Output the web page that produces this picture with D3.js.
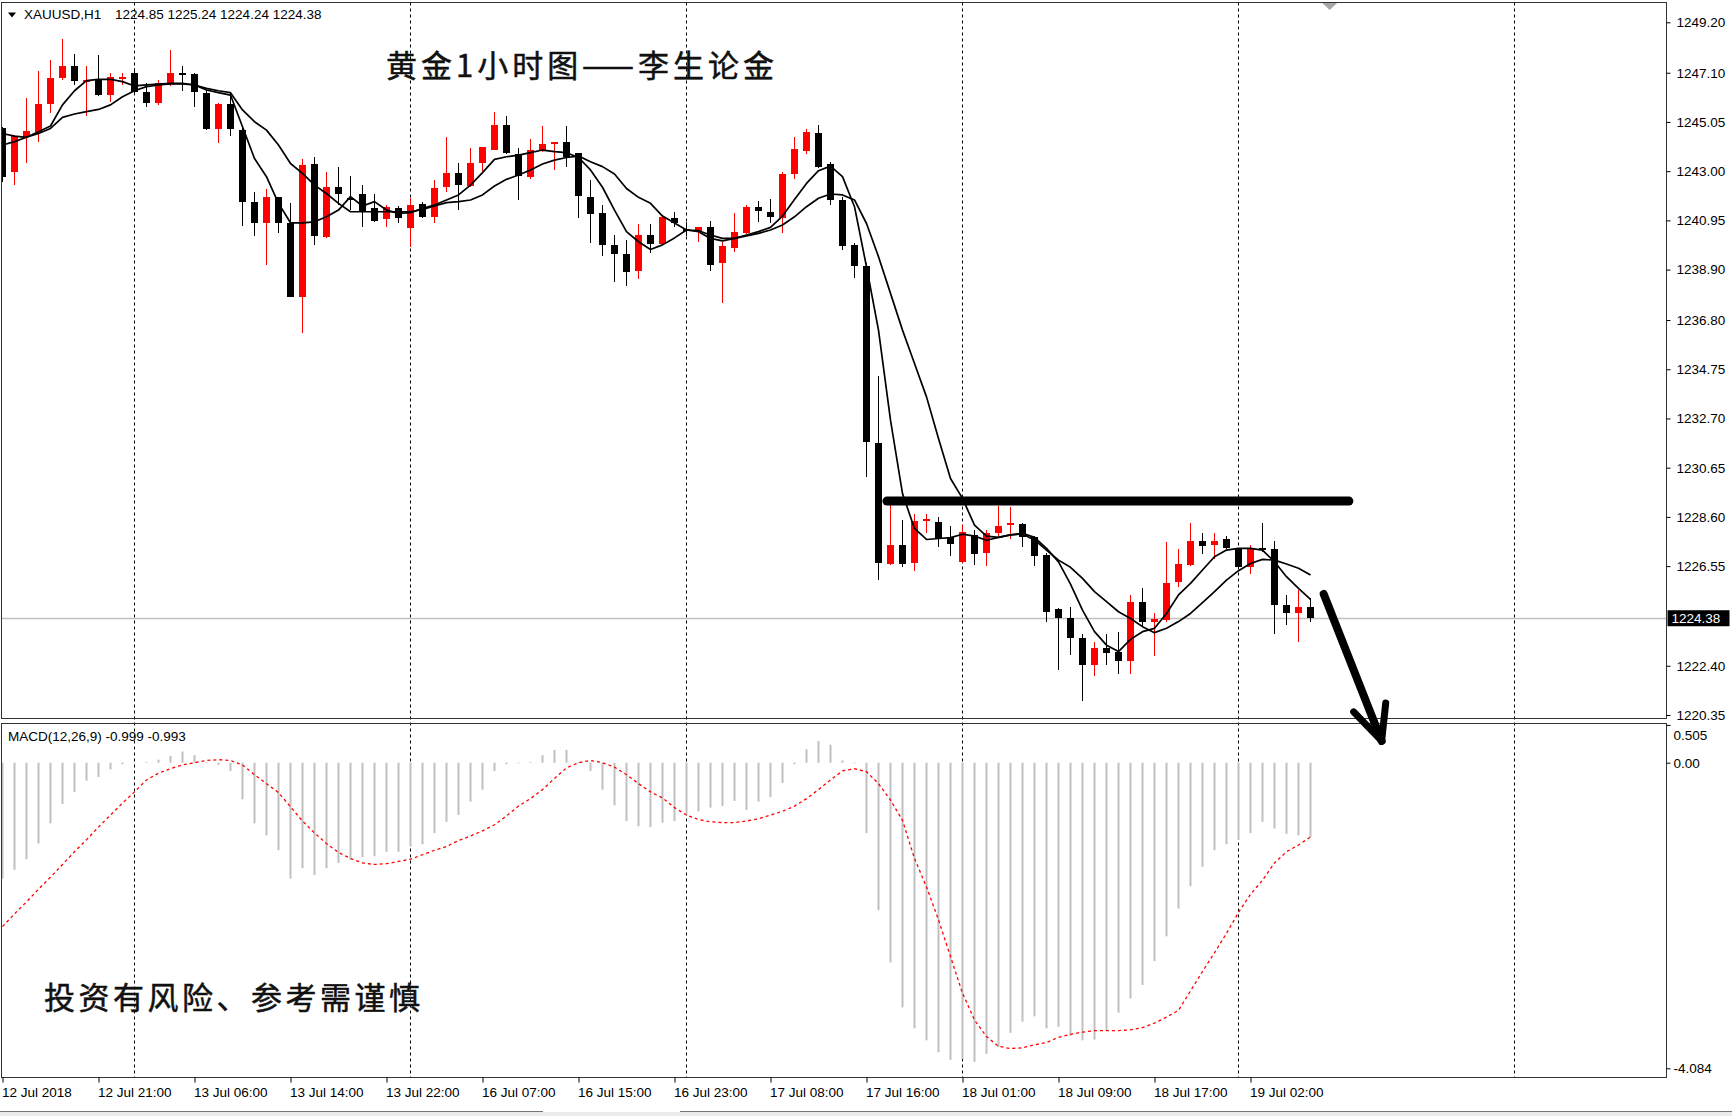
<!DOCTYPE html>
<html><head><meta charset="utf-8">
<script src="https://cdn.jsdelivr.net/npm/d3@7"></script>
<style>
html,body{margin:0;padding:0;background:#fff;}
svg{display:block;}
</style></head><body>
<svg id="c" width="1732" height="1116"></svg>
<script>
// ---------- DATA ----------
const symbolText = "XAUUSD,H1";
const headerValues = "1224.85 1225.24 1224.24 1224.38";
const titleText = "黄金1小时图——李生论金";
const noteText = "投资有风险、参考需谨慎";
const macdTitle = "MACD(12,26,9) -0.999 -0.993";

const open = [1244.80,1242.98,1244.41,1244.64,1245.80,1246.87,1247.38,1246.74,1246.84,1246.16,
1246.86,1247.10,1246.31,1245.85,1246.63,1247.10,1247.05,1246.27,1244.74,1245.80,
1244.71,1241.73,1240.85,1241.94,1240.85,1237.77,1243.29,1240.24,1242.35,1241.87,
1242.03,1241.45,1240.99,1241.45,1240.65,1241.65,1241.10,1242.32,1242.93,1242.38,
1243.35,1243.90,1244.92,1243.71,1242.77,1243.88,1244.13,1244.22,1243.74,1241.93,
1241.24,1239.92,1239.55,1238.85,1240.34,1239.96,1241.07,1240.60,1240.52,1240.66,
1239.16,1239.78,1240.44,1241.49,1241.31,1241.03,1242.88,1243.85,1244.60,1243.30,
1241.80,1239.92,1239.05,1231.69,1226.63,1227.42,1226.66,1228.45,1228.40,1227.77,
1226.73,1227.84,1227.10,1227.94,1228.30,1228.31,1227.75,1227.01,1224.75,1224.37,
1223.54,1222.43,1223.12,1222.98,1222.61,1225.07,1224.24,1224.30,1225.90,1226.60,
1227.61,1227.43,1227.67,1227.25,1226.50,1227.29,1227.25,1224.93,1224.61,1224.85];
const high = [1244.85,1244.50,1246.06,1247.19,1247.63,1248.49,1247.88,1247.38,1247.84,1247.10,
1247.10,1247.30,1246.66,1246.80,1248.05,1247.38,1247.10,1246.45,1245.85,1246.24,
1244.78,1242.14,1242.24,1241.94,1241.66,1243.49,1243.60,1242.98,1243.18,1242.79,
1242.42,1242.04,1241.58,1241.54,1241.90,1241.72,1242.65,1244.43,1243.35,1243.95,
1244.02,1245.47,1245.29,1243.95,1244.32,1244.88,1244.22,1244.88,1243.74,1242.63,
1241.59,1240.34,1240.13,1240.80,1240.80,1241.17,1241.31,1240.90,1240.68,1240.94,
1240.06,1241.24,1241.59,1241.77,1241.83,1242.98,1244.44,1244.74,1244.92,1243.40,
1241.94,1239.99,1239.16,1234.47,1229.09,1228.49,1228.72,1228.74,1228.60,1228.21,
1228.26,1228.05,1228.05,1229.06,1229.00,1228.36,1227.81,1227.08,1224.79,1224.86,
1223.72,1223.40,1223.72,1223.82,1225.35,1225.62,1224.58,1227.57,1227.25,1228.36,
1227.94,1227.94,1227.81,1227.29,1227.43,1228.36,1227.61,1225.35,1225.55,1225.24];
const low = [1242.55,1242.42,1243.35,1244.23,1245.41,1246.80,1246.59,1245.30,1246.13,1245.89,
1246.59,1246.24,1245.66,1245.75,1246.55,1246.35,1245.66,1244.71,1244.16,1244.46,
1240.71,1240.30,1239.09,1240.44,1237.74,1236.27,1239.92,1240.20,1241.58,1241.38,
1240.68,1240.89,1240.66,1240.85,1239.85,1241.03,1240.85,1242.14,1241.40,1242.32,
1243.02,1243.88,1243.71,1241.79,1242.66,1243.81,1243.04,1243.18,1241.03,1240.02,
1239.46,1238.39,1238.21,1238.49,1239.60,1239.92,1240.69,1240.30,1240.06,1238.85,
1237.49,1239.64,1240.38,1240.90,1240.83,1240.41,1242.66,1243.71,1243.12,1241.59,
1239.71,1238.53,1230.27,1225.97,1226.59,1226.52,1226.35,1227.94,1227.35,1226.97,
1226.69,1226.59,1226.55,1227.81,1227.67,1227.36,1226.55,1224.24,1222.22,1222.85,
1220.94,1221.97,1222.43,1222.05,1222.05,1224.03,1222.80,1224.24,1225.67,1226.55,
1227.06,1226.83,1227.25,1226.41,1226.22,1227.15,1223.72,1224.10,1223.40,1224.24];
const close = [1242.76,1244.46,1244.69,1245.80,1246.87,1247.38,1246.77,1246.80,1246.16,1246.91,
1246.94,1246.31,1245.85,1246.69,1247.10,1247.05,1246.31,1244.74,1245.80,1244.74,
1241.73,1240.85,1241.94,1240.85,1237.77,1243.25,1240.30,1242.35,1242.04,1241.80,
1241.31,1240.93,1241.52,1241.07,1241.58,1241.10,1242.28,1242.93,1242.42,1243.32,
1243.99,1244.92,1243.74,1242.79,1243.88,1244.12,1244.22,1243.57,1241.96,1241.21,
1239.92,1239.55,1238.81,1240.34,1239.96,1241.10,1240.83,1240.55,1240.66,1239.09,
1239.88,1240.48,1241.49,1241.35,1241.10,1242.88,1243.91,1244.64,1243.16,1241.80,
1239.88,1239.05,1231.73,1226.66,1227.42,1226.63,1228.44,1228.50,1227.70,1227.49,
1227.98,1227.05,1227.91,1228.22,1228.36,1227.75,1226.97,1224.65,1224.37,1223.54,
1222.43,1223.12,1222.92,1222.61,1225.07,1224.24,1224.33,1225.86,1226.64,1227.61,
1227.39,1227.61,1227.29,1226.50,1227.29,1227.22,1224.93,1224.61,1224.86,1224.38];

const maFast = [1244.57,1244.46,1244.41,1244.64,1244.88,1245.76,1246.35,1246.77,1246.82,1246.82,
1246.73,1246.55,1246.59,1246.63,1246.66,1246.66,1246.59,1246.38,1246.27,1246.17,
1244.85,1243.53,1242.77,1241.66,1240.85,1240.85,1240.89,1241.10,1241.38,1241.94,
1241.55,1241.73,1241.38,1241.24,1241.27,1241.45,1241.59,1241.80,1242.01,1242.42,
1242.94,1243.49,1243.60,1243.67,1243.77,1243.88,1243.81,1243.77,1243.57,1243.05,
1242.33,1241.38,1240.48,1240.06,1239.74,1239.93,1240.22,1240.55,1240.48,1240.20,
1240.10,1240.20,1240.34,1240.48,1240.66,1241.13,1241.82,1242.49,1243.02,1243.21,
1242.77,1241.52,1239.02,1236.38,1232.63,1229.57,1228.12,1227.66,1227.70,1227.74,
1227.88,1227.80,1227.63,1227.75,1227.85,1227.92,1227.75,1227.29,1226.73,1225.80,
1224.72,1223.82,1223.26,1222.99,1223.50,1223.82,1223.96,1224.58,1225.35,1225.83,
1226.39,1226.94,1227.22,1227.29,1227.29,1227.22,1226.73,1226.11,1225.62,1225.17];
const maSlow = [1244.09,1244.23,1244.41,1244.57,1244.78,1245.24,1245.38,1245.48,1245.57,1245.76,
1246.10,1246.35,1246.52,1246.59,1246.63,1246.63,1246.59,1246.45,1246.35,1246.27,
1245.55,1245.06,1244.71,1244.09,1243.32,1242.91,1242.42,1242.07,1241.66,1241.31,
1241.31,1241.31,1241.31,1241.31,1241.31,1241.41,1241.55,1241.69,1241.73,1241.80,
1242.01,1242.38,1242.66,1242.84,1243.05,1243.30,1243.46,1243.57,1243.63,1243.39,
1243.19,1242.88,1242.28,1241.91,1241.66,1241.13,1240.84,1240.55,1240.52,1240.34,
1240.20,1240.20,1240.30,1240.41,1240.55,1240.76,1241.10,1241.52,1241.87,1242.05,
1242.01,1241.80,1240.82,1239.44,1237.91,1236.38,1234.99,1233.60,1231.87,1230.20,
1229.37,1228.26,1227.80,1227.75,1227.85,1227.89,1227.64,1227.22,1226.80,1226.50,
1226.04,1225.49,1225.07,1224.65,1224.37,1224.03,1223.78,1223.96,1224.24,1224.58,
1225.03,1225.49,1225.97,1226.36,1226.66,1226.83,1226.80,1226.64,1226.46,1226.18];

const macdHist = [-1.55,-1.43,-1.29,-1.08,-0.81,-0.55,-0.39,-0.24,-0.19,-0.09,
-0.02,0.00,0.01,0.04,0.09,0.15,0.10,0.01,-0.03,-0.11,
-0.49,-0.81,-0.97,-1.17,-1.55,-1.41,-1.50,-1.41,-1.34,-1.30,
-1.26,-1.25,-1.19,-1.19,-1.12,-1.09,-0.94,-0.79,-0.70,-0.52,
-0.36,-0.11,-0.02,-0.01,0.01,0.10,0.17,0.17,0.01,-0.11,
-0.36,-0.57,-0.78,-0.85,-0.86,-0.80,-0.78,-0.70,-0.65,-0.60,
-0.58,-0.51,-0.63,-0.52,-0.46,-0.27,-0.02,0.18,0.29,0.24,
0.03,-0.01,-0.94,-1.97,-2.67,-3.27,-3.55,-3.71,-3.87,-3.97,
-3.96,-4.00,-3.89,-3.80,-3.61,-3.46,-3.39,-3.55,-3.53,-3.65,
-3.71,-3.70,-3.58,-3.34,-3.15,-2.97,-2.65,-2.32,-1.95,-1.65,
-1.39,-1.17,-1.09,-1.03,-0.94,-0.79,-0.88,-0.95,-0.97,-0.999];
const macdSignal = [-2.19,-2.02,-1.86,-1.69,-1.53,-1.36,-1.19,-1.03,-0.86,-0.70,
-0.54,-0.39,-0.23,-0.14,-0.08,-0.03,0.00,0.03,0.04,0.03,
-0.03,-0.16,-0.28,-0.40,-0.59,-0.78,-0.94,-1.08,-1.20,-1.28,
-1.34,-1.36,-1.35,-1.32,-1.29,-1.23,-1.17,-1.12,-1.04,-0.98,
-0.91,-0.83,-0.71,-0.58,-0.48,-0.36,-0.21,-0.07,0.00,0.03,
0.00,-0.06,-0.16,-0.28,-0.39,-0.47,-0.60,-0.70,-0.76,-0.79,
-0.80,-0.80,-0.78,-0.75,-0.70,-0.65,-0.58,-0.48,-0.36,-0.23,
-0.11,-0.08,-0.12,-0.28,-0.50,-0.77,-1.28,-1.66,-2.10,-2.59,
-3.08,-3.44,-3.66,-3.79,-3.82,-3.81,-3.77,-3.74,-3.67,-3.63,
-3.60,-3.58,-3.58,-3.58,-3.57,-3.54,-3.48,-3.40,-3.31,-3.05,
-2.79,-2.54,-2.28,-2.00,-1.76,-1.57,-1.34,-1.19,-1.10,-0.993];

const priceTicks = [1249.20,1247.10,1245.05,1243.00,1240.95,1238.90,1236.80,1234.75,1232.70,1230.65,1228.60,1226.55,1222.40,1220.35];
const lastPrice = 1224.38;
const macdTicks = [0.505, 0.00, -4.084];
const macdTickLabels = ["0.505","0.00","-4.084"];
const timeTickBars = [0,8,16,24,32,40,48,56,64,72,80,88,96,104];
const timeTickLabels = ["12 Jul 2018","12 Jul 21:00","13 Jul 06:00","13 Jul 14:00","13 Jul 22:00","16 Jul 07:00","16 Jul 15:00","16 Jul 23:00","17 Jul 08:00","17 Jul 16:00","18 Jul 01:00","18 Jul 09:00","18 Jul 17:00","19 Jul 02:00"];
const gridBars = [11,34,57,80,103,126];
// hand-drawn annotations, in (bar, price) units
const resistance = [[73.7,1229.26],[112.2,1229.26]];
const arrowShaft = [[110.1,1225.39],[114.93,1219.27]];
const arrowHead = [[112.6,1220.48],[114.93,1219.27],[115.27,1220.85]];
const shiftMarkerBar = 110.6;

// ---------- LAYOUT ----------
const W = 1732, H = 1116;
const L = 1.5, R = 1666.5;
const mainTop = 2.5, mainBot = 718.5;
const macdTop = 723.5, macdBot = 1077.5;
const RED = "#ff0000", BLK = "#000000";

const svg = d3.select("#c");
svg.append("rect").attr("width",W).attr("height",H).attr("fill","#fff");

const x = d3.scaleLinear().domain([0,109]).range([2.5,1310.5]);
const y = d3.scaleLinear().domain([1220.35,1249.20]).range([715.0,22.3]);
const ym = d3.scaleLinear().domain([-4.084,0]).range([1068.3,762.7]);

const defs = svg.append("defs");
defs.append("clipPath").attr("id","clipMain").append("rect")
  .attr("x",L).attr("y",mainTop).attr("width",R-L).attr("height",mainBot-mainTop);
defs.append("clipPath").attr("id","clipMacd").append("rect")
  .attr("x",L).attr("y",macdTop).attr("width",R-L).attr("height",macdBot-macdTop);

// grid (dotted verticals through both panels)
svg.append("g").selectAll("line").data(gridBars).join("line")
  .attr("x1",d=>x(d)).attr("x2",d=>x(d)).attr("y1",mainTop).attr("y2",macdBot)
  .attr("stroke","#000").attr("stroke-width",1).attr("stroke-dasharray","3,3");

// current price line
svg.append("line").attr("x1",L).attr("x2",R)
  .attr("y1",Math.round(y(lastPrice))+0.5).attr("y2",Math.round(y(lastPrice))+0.5)
  .attr("stroke","#c0c0c0").attr("stroke-width",1.5);

// candles
const idx = d3.range(open.length);
const gC = svg.append("g").attr("clip-path","url(#clipMain)");
const col = i => close[i] < open[i] ? BLK : RED;
gC.selectAll("line.w").data(idx).join("line").attr("class","w")
  .attr("x1",i=>x(i)).attr("x2",i=>x(i))
  .attr("y1",i=>Math.round(y(high[i]))).attr("y2",i=>Math.round(y(low[i])))
  .attr("stroke",col).attr("stroke-width",1);
gC.selectAll("rect.b").data(idx).join("rect").attr("class","b")
  .attr("x",i=>x(i)-3.5).attr("width",7)
  .attr("y",i=>Math.round(y(Math.max(open[i],close[i]))))
  .attr("height",i=>Math.max(2,Math.round(y(Math.min(open[i],close[i])))-Math.round(y(Math.max(open[i],close[i])))))
  .attr("fill",col);

// moving averages
const lineP = d3.line().x((d,i)=>x(i)).y(d=>y(d)).curve(d3.curveLinear);
gC.append("path").attr("d",lineP(maSlow)).attr("fill","none").attr("stroke","#000").attr("stroke-width",1.7).attr("stroke-linejoin","round");
gC.append("path").attr("d",lineP(maFast)).attr("fill","none").attr("stroke","#000").attr("stroke-width",1.7).attr("stroke-linejoin","round");

// MACD
const gM = svg.append("g").attr("clip-path","url(#clipMacd)");
gM.selectAll("rect").data(idx).join("rect")
  .attr("x",i=>x(i)-1).attr("width",2)
  .attr("y",i=>Math.min(ym(0),ym(macdHist[i])))
  .attr("height",i=>Math.max(0.5,Math.abs(ym(macdHist[i])-ym(0))))
  .attr("fill","#c0c0c0");
const lineM = d3.line().x((d,i)=>x(i)).y(d=>ym(d));
gM.append("path").attr("d",lineM(macdSignal)).attr("fill","none")
  .attr("stroke","#ff0000").attr("stroke-width",1.3).attr("stroke-dasharray","3,3");

// panel frames
svg.append("rect").attr("x",L).attr("y",mainTop).attr("width",R-L).attr("height",mainBot-mainTop)
  .attr("fill","none").attr("stroke","#333").attr("stroke-width",1);
svg.append("rect").attr("x",L).attr("y",macdTop).attr("width",R-L).attr("height",macdBot-macdTop)
  .attr("fill","none").attr("stroke","#333").attr("stroke-width",1);

// chart shift marker
const sm = x(shiftMarkerBar);
svg.append("path").attr("d",`M${sm-7.5},3 L${sm+7.5},3 L${sm},10 Z`).attr("fill","#a8a8a8");

// annotations
const lineA = d3.line().x(d=>x(d[0])).y(d=>y(d[1]));
svg.append("path").attr("d",lineA(resistance)).attr("stroke","#000").attr("stroke-width",9)
  .attr("stroke-linecap","round").attr("fill","none");
svg.append("path").attr("d",lineA(arrowShaft)).attr("stroke","#000").attr("stroke-width",8)
  .attr("stroke-linecap","round").attr("fill","none");
svg.append("path").attr("d",lineA(arrowHead)).attr("stroke","#000").attr("stroke-width",7)
  .attr("stroke-linecap","round").attr("stroke-linejoin","round").attr("fill","none");

// price axis
const FONT = "'Liberation Sans', Arial, sans-serif";
const axY = svg.append("g").attr("transform",`translate(${R},0)`)
  .call(d3.axisRight(y).tickValues(priceTicks).tickFormat(d3.format(".2f")).tickSize(4).tickPadding(6));
axY.select(".domain").remove();
axY.selectAll("text").attr("font-family",FONT).attr("font-size",13.5).attr("fill","#000");
axY.selectAll("line").attr("stroke","#000");

// last price box
const lpY = y(lastPrice);
svg.append("rect").attr("x",R+1).attr("y",lpY-8).attr("width",62).attr("height",16).attr("fill","#000");
svg.append("text").attr("x",R+5).attr("y",lpY+5).text(d3.format(".2f")(lastPrice))
  .attr("font-family",FONT).attr("font-size",13.5).attr("fill","#fff");

// macd axis
const axM = svg.append("g").attr("transform",`translate(${R},0)`)
  .call(d3.axisRight(ym).tickValues(macdTicks).tickFormat((d,i)=>macdTickLabels[i]).tickSize(4).tickPadding(3));
axM.select(".domain").remove();
axM.selectAll("text").attr("font-family",FONT).attr("font-size",13.5).attr("fill","#000")
  .attr("dy",(d)=> d>0.4 ? "1.05em" : "0.32em");
axM.selectAll("line").attr("stroke","#000");

// time axis
const axX = svg.append("g").attr("transform",`translate(0,${macdBot})`)
  .call(d3.axisBottom(x).tickValues(timeTickBars).tickFormat((d,i)=>timeTickLabels[i]).tickSize(5).tickPadding(5));
axX.select(".domain").remove();
axX.selectAll("text").attr("font-family",FONT).attr("font-size",13.5).attr("fill","#000")
  .attr("text-anchor","start").attr("x",-1);
axX.selectAll("line").attr("stroke","#000");

// bottom strip
svg.append("rect").attr("x",0).attr("y",1112).attr("width",W).attr("height",4).attr("fill","#ececec");
svg.append("line").attr("x1",0).attr("x2",543).attr("y1",1111.5).attr("y2",1111.5).attr("stroke","#777");
svg.append("line").attr("x1",680).attr("x2",W).attr("y1",1111.5).attr("y2",1111.5).attr("stroke","#777");

// header
svg.append("path").attr("d","M8,12.5 L16,12.5 L12,17.5 Z").attr("fill","#000");
svg.append("text").attr("x",24).attr("y",19).text(symbolText).attr("font-family",FONT).attr("font-size",13.5).attr("fill","#000");
svg.append("text").attr("x",115).attr("y",19).text(headerValues).attr("font-family",FONT).attr("font-size",13.5).attr("fill","#000");
svg.append("text").attr("x",8).attr("y",741).text(macdTitle).attr("font-family",FONT).attr("font-size",13.5).attr("fill","#000");

// Chinese texts
const CJK = "'Noto Sans CJK SC','Noto Sans CJK TC',sans-serif";
svg.append("text").attr("x",386).attr("y",77).text(titleText)
  .attr("font-family",CJK).attr("font-size",31).attr("fill","#111")
  .attr("stroke","#111").attr("stroke-width",0.5)
  .attr("textLength",388).attr("lengthAdjust","spacing");
svg.append("text").attr("x",44).attr("y",1009).text(noteText)
  .attr("font-family",CJK).attr("font-size",31).attr("fill","#111")
  .attr("stroke","#111").attr("stroke-width",0.5)
  .attr("textLength",376).attr("lengthAdjust","spacing");
</script>
</body></html>
